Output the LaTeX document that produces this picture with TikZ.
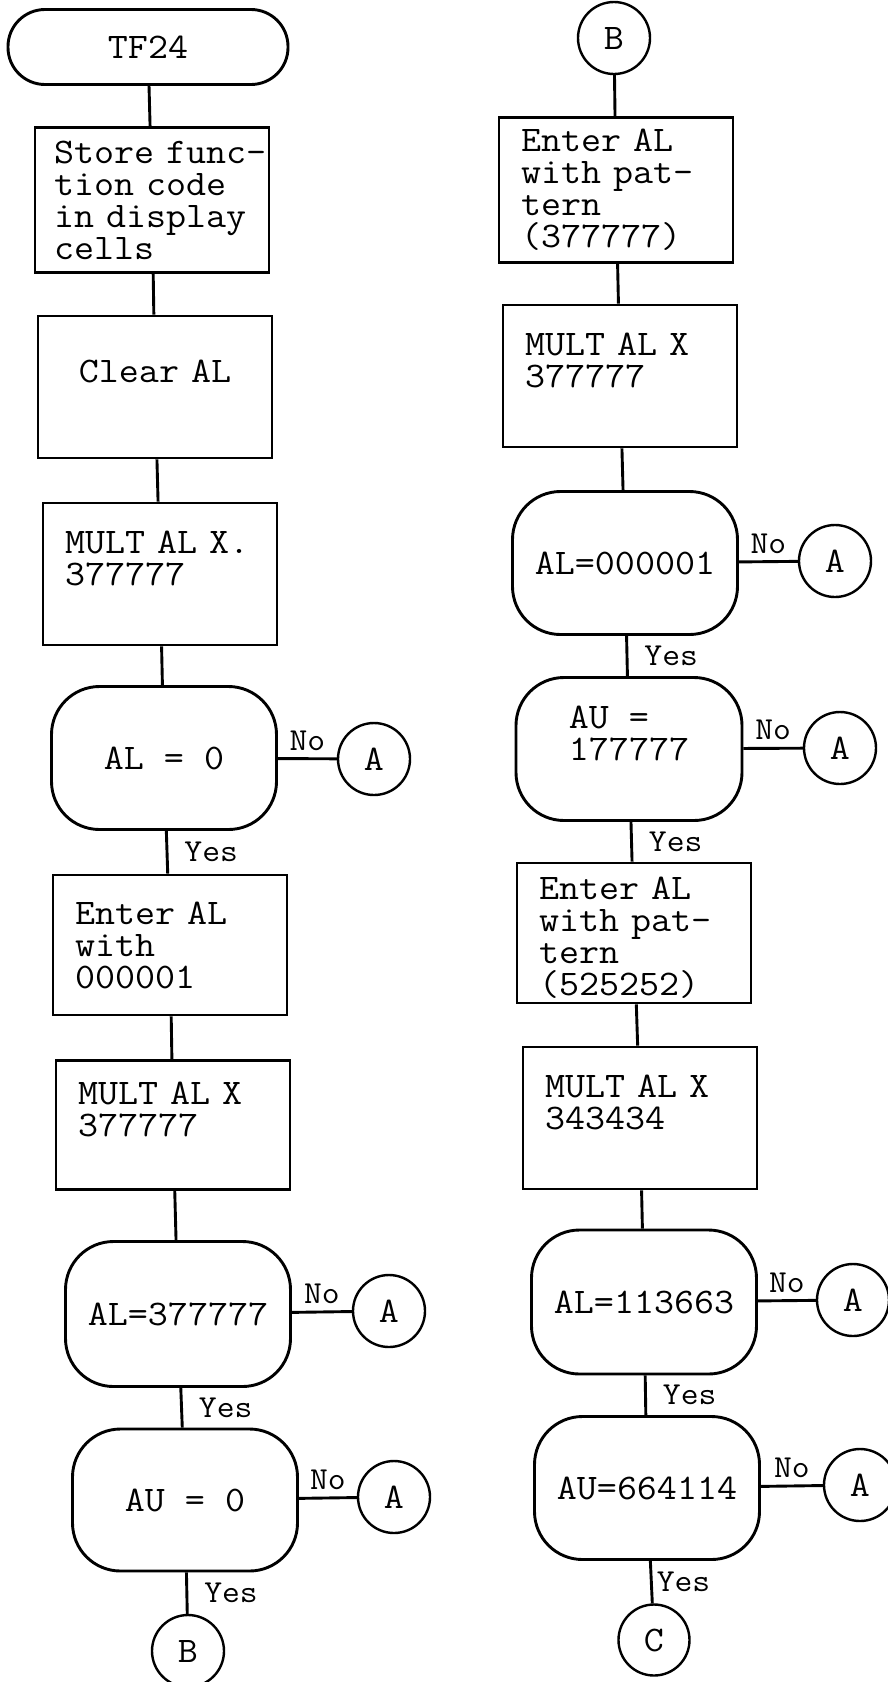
\documentclass[tikz,border=0pt]{standalone}
\usepackage{fontspec}
\setmonofont[FakeStretch=1.08]{Latin Modern Mono}
\newcommand{\boxfont}{\fontsize{36}{32}\selectfont\ttfamily}
\newcommand{\ynfont}{\fontsize{32}{32}\selectfont\ttfamily}

\begin{document}
\begin{tikzpicture}[x=1pt, y=-1pt, line width=2.9pt,
  proc/.style={draw, rectangle, minimum width=234pt, minimum height=142pt,
    text width=190pt, align=left, inner sep=0pt, font=\boxfont},
  test/.style={draw, rectangle, rounded corners=48pt, minimum width=225pt,
    minimum height=143pt, align=center, font=\boxfont},
  term/.style={draw, rectangle, rounded corners=37pt, minimum width=280pt,
    minimum height=75pt, font=\boxfont},
  conn/.style={draw, circle, minimum size=72pt, inner sep=0pt,
    line width=2.4pt, font=\boxfont},
  yn/.style={font=\ynfont, inner sep=4pt}]
  \useasboundingbox (0,0) rectangle (887,1682);

  % left column
  \node[term] (tf) at (148,47) {TF24};
  \node[proc, minimum height=145pt, text width=196pt] (s1) at (152,200)
    {Store~func-\\tion~code\\in~display\\cells};
  \node[proc, align=center] (s2) at (155,387) {Clear AL\\ \mbox{}};
  \node[proc] (s3) at (160,574) {MULT AL X.\\377777\\ \mbox{}};
  \node[test] (d1) at (164,758) {AL = 0};
  \node[conn] (a1) at (374,759) {A};
  \node[proc, minimum height=140pt] (s4) at (170,945) {Enter AL\\with\\000001};
  \node[proc, minimum height=129pt] (s5) at (173,1125) {MULT AL X\\377777\\ \mbox{}};
  \node[test, minimum height=145pt] (d2) at (178,1314) {AL=377777};
  \node[conn] (a2) at (389,1311) {A};
  \node[test, minimum height=142pt] (d3) at (185,1500) {AU = 0};
  \node[conn] (a3) at (394,1497) {A};
  \node[conn] (b1) at (188,1651) {B};

  % right column
  \node[conn] (b2) at (614,38) {B};
  \node[proc, minimum height=145pt] (r1) at (616,190)
    {Enter AL\\with pat-\\tern\\(377777)};
  \node[proc] (r2) at (620,376) {MULT AL X\\377777\\ \mbox{}};
  \node[test] (e1) at (625,563) {AL=000001};
  \node[conn] (a4) at (835,561) {A};
  \node[test, minimum width=226pt, align=left] (e2) at (629,749) {AU =\\177777\\ \mbox{}};
  \node[conn] (a5) at (840,748) {A};
  \node[proc, minimum height=140pt] (r3) at (634,933)
    {\mbox{}\\Enter AL\\with pat-\\tern\\(525252)};
  \node[proc] (r4) at (640,1118) {MULT AL X\\343434\\ \mbox{}};
  \node[test, minimum height=144pt] (e3) at (644,1302) {AL=113663};
  \node[conn] (a6) at (853,1300) {A};
  \node[test] (e4) at (647,1488) {AU=664114};
  \node[conn] (a7) at (860,1485) {A};
  \node[conn, minimum size=71pt] (c1) at (654,1640) {C};

  % flow lines, left
  \draw (tf) -- (s1);
  \draw (s1) -- (s2);
  \draw (s2) -- (s3);
  \draw (s3) -- (d1);
  \draw (d1) -- node[yn, above=3pt] {No} (a1);
  \draw (d1) -- node[yn, right=12pt] {Yes} (s4);
  \draw (s4) -- (s5);
  \draw (s5) -- (d2);
  \draw (d2) -- node[yn, above=3pt] {No} (a2);
  \draw (d2) -- node[yn, right=12pt] {Yes} (d3);
  \draw (d3) -- node[yn, above=3pt] {No} (a3);
  \draw (d3) -- node[yn, right=12pt] {Yes} (b1);

  % flow lines, right
  \draw (b2) -- (r1);
  \draw (r1) -- (r2);
  \draw (r2) -- (e1);
  \draw (e1) -- node[yn, above=3pt] {No} (a4);
  \draw (e1) -- node[yn, right=12pt] {Yes} (e2);
  \draw (e2) -- node[yn, above=3pt] {No} (a5);
  \draw (e2) -- node[yn, right=12pt] {Yes} (r3);
  \draw (r3) -- (r4);
  \draw (r4) -- (e3);
  \draw (e3) -- node[yn, above=3pt] {No} (a6);
  \draw (e3) -- node[yn, right=12pt] {Yes} (e4);
  \draw (e4) -- node[yn, above=3pt] {No} (a7);
  \draw (e4) -- node[yn, right=0pt] {Yes} (c1);
\end{tikzpicture}
\end{document}
